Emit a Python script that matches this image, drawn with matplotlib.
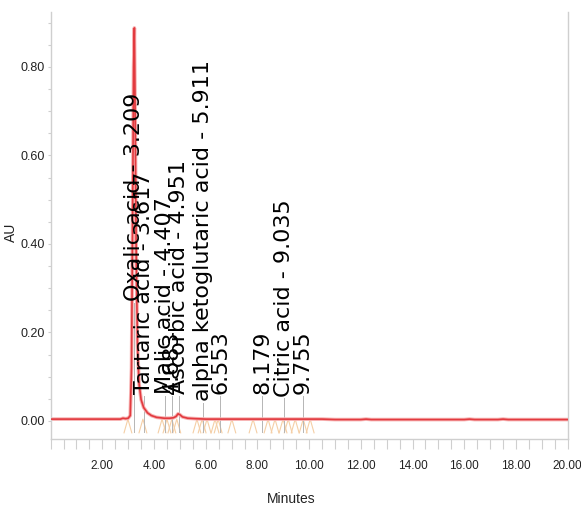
import matplotlib
matplotlib.use("Agg")
import numpy as np
import matplotlib.pyplot as plt
from matplotlib.ticker import MultipleLocator, FormatStrFormatter

# detector trace (minutes, AU)
trace_min = [0.00, 1.00, 2.00, 2.70, 2.80, 2.90, 3.00, 3.08, 3.13, 3.17, 3.21, 3.24,
             3.27, 3.31, 3.36, 3.42, 3.50, 3.60, 3.75, 3.90, 4.10, 4.40, 4.60, 4.75,
             4.85, 4.93, 5.00, 5.10, 5.30, 5.60, 6.00, 8.00, 10.50, 11.00, 12.00, 12.20,
             12.40, 16.00, 16.20, 16.40, 17.30, 17.50, 17.70, 20.00]
trace_au = [0.004, 0.004, 0.004, 0.004, 0.006, 0.005, 0.006, 0.012, 0.12, 0.45, 0.80, 0.888,
            0.70, 0.38, 0.17, 0.085, 0.048, 0.030, 0.018, 0.012, 0.008, 0.006, 0.006, 0.007,
            0.010, 0.016, 0.014, 0.009, 0.006, 0.005, 0.004, 0.004, 0.004, 0.003, 0.003, 0.004,
            0.003, 0.003, 0.004, 0.003, 0.003, 0.004, 0.003, 0.003]

# integrated peaks
peak_rt = [3.209, 3.617, 4.407, 4.683, 4.951, 5.911, 6.553, 8.179, 9.035, 9.755]
peak_name = ["Oxalic acid", "Tartaric acid", "Malic acid", "", "Ascorbic acid",
             "alpha ketoglutaric acid", "", "", "Citric acid", ""]

# start / end integration markers
mark_rt = [2.99, 3.57, 4.31, 4.50, 4.69, 4.88, 5.66, 5.86, 6.05, 6.36, 6.48,
           7.01, 7.83, 8.41, 8.68, 8.99, 9.19, 9.46, 9.77, 10.04]

label_y = [0.27, 0.06, 0.06, 0.06, 0.06, 0.045, 0.06, 0.06, 0.055, 0.06]

sans = ["Liberation Sans", "DejaVu Sans"]
axis_grey = "#cfcfcf"

fig = plt.figure(figsize=(5.81, 5.13), dpi=100)
ax = fig.add_axes([0.0871, 0.1442, 0.890, 0.8324])

for rt in mark_rt:
    ax.plot([rt - 0.15, rt, rt + 0.15], [-0.027, 0.004, -0.027],
            color="#f5cfa6", lw=0.8, zorder=1)

for rt, name, y in zip(peak_rt, peak_name, label_y):
    ax.plot([rt, rt], [-0.024, y - 0.004], color="#b5b5b5", lw=0.7, zorder=1)
    txt = f"{name} - {rt:.3f}" if name else f"{rt:.3f}"
    ax.text(rt, y, txt, rotation=90, ha="center", va="bottom",
            fontsize=16, color="black", family="DejaVu Sans", zorder=4)

ax.plot(trace_min, trace_au, color="#f7b0b0", lw=2.6, zorder=2)
ax.plot(trace_min, trace_au, color="#e23a3f", lw=1.2, zorder=3)

ax.set_xticks(np.arange(2, 21, 2))
ax.xaxis.set_minor_locator(MultipleLocator(0.5))
ax.yaxis.set_major_locator(MultipleLocator(0.2))
ax.yaxis.set_minor_locator(MultipleLocator(0.05))
ax.xaxis.set_major_formatter(FormatStrFormatter("%.2f"))
ax.yaxis.set_major_formatter(FormatStrFormatter("%.2f"))
ax.set_xlim(0, 20)
ax.set_ylim(-0.041, 0.924)

ax.tick_params(axis="x", which="both", direction="out", length=7, width=0.8,
               color=axis_grey, pad=8, labelsize=8.5)
ax.tick_params(axis="y", which="both", direction="out", length=2.5, width=0.8,
               color=axis_grey, pad=1.5, labelsize=9)
for lab in ax.get_xticklabels() + ax.get_yticklabels():
    lab.set_family(sans)
    lab.set_color("#222222")

for side in ["left", "bottom", "right"]:
    ax.spines[side].set_color(axis_grey)
    ax.spines[side].set_linewidth(1.0)
ax.spines["top"].set_visible(False)

ax.set_xlabel("Minutes", family=sans, fontsize=10, color="#222222")
ax.xaxis.set_label_coords(0.465, -0.125)
ax.set_ylabel("AU", family=sans, fontsize=10, color="#222222")
ax.yaxis.set_label_coords(-0.063, 0.485)

fig.savefig("out.png", dpi=100)
